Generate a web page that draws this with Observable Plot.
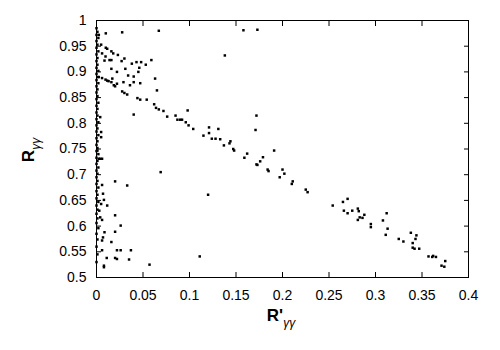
<!DOCTYPE html>
<html><head><meta charset="utf-8">
<script src="https://cdn.jsdelivr.net/npm/d3@7"></script>
<script src="https://cdn.jsdelivr.net/npm/@observablehq/plot@0.6"></script>
<style>body{margin:0;background:#fff} #chart{width:500px;height:350px}</style>
</head><body><div id="chart"></div><script>
const xTicks = [0, 0.05, 0.1, 0.15, 0.2, 0.25, 0.3, 0.35, 0.4];
const yTicks = [0.5, 0.55, 0.6, 0.65, 0.7, 0.75, 0.8, 0.85, 0.9, 0.95, 1];
const xLabel = ["R'", "γγ"];
const yLabel = ["R", "γγ"];

// main diagonal band [R'γγ, Rγγ]
const band = [
[0.0025,0.890],[0.006,0.888],[0.0097,0.885],[0.0115,0.883],[0.013,0.882],[0.017,0.887],[0.016,0.880],[0.0186,0.874],[0.020,0.872],[0.022,0.877],[0.029,0.880],[0.0276,0.862],[0.030,0.859],[0.033,0.856],[0.044,0.849],[0.047,0.846],[0.054,0.846],[0.062,0.837],[0.064,0.830],[0.067,0.827],[0.072,0.824],[0.076,0.813],[0.085,0.815],[0.087,0.807],[0.090,0.807],[0.092,0.807],[0.096,0.802],[0.099,0.796],[0.104,0.789],[0.121,0.792],[0.131,0.789],[0.115,0.776],[0.121,0.781],[0.124,0.770],[0.128,0.770],[0.133,0.769],[0.137,0.757],[0.144,0.765],[0.143,0.761],[0.147,0.750],[0.148,0.747],[0.162,0.741],[0.159,0.733],[0.179,0.734],[0.172,0.720],[0.173,0.719],[0.176,0.726],[0.184,0.710],[0.185,0.707],[0.200,0.710],[0.197,0.695],[0.202,0.702],[0.211,0.687],[0.210,0.682],[0.225,0.671],[0.227,0.666],[0.254,0.640],[0.265,0.647],[0.270,0.653],[0.266,0.630],[0.270,0.625],[0.275,0.630],[0.281,0.634],[0.282,0.629],[0.281,0.612],[0.283,0.617],[0.286,0.616],[0.288,0.622],[0.295,0.604],[0.295,0.598],[0.312,0.625],[0.308,0.611],[0.313,0.595],[0.311,0.583],[0.325,0.575],[0.330,0.570],[0.338,0.587],[0.344,0.582],[0.343,0.575],[0.340,0.567],[0.340,0.558],[0.342,0.556],[0.347,0.556],[0.357,0.541],[0.361,0.540],[0.362,0.542],[0.365,0.540],[0.371,0.523],[0.374,0.521],[0.375,0.532]
];

// points along R'γγ ≈ 0
const column = [
[0,0.985],[0.001,0.978],[0,0.972],[0.002,0.966],[0,0.96],[0.001,0.953],[0,0.947],[0.002,0.94],[0,0.934],[0.001,0.927],[0,0.921],[0.001,0.914],[0,0.908],[0.002,0.902],[0,0.896],[0.001,0.89],[0,0.884],[0.002,0.878],[0,0.872],[0.001,0.866],[0,0.86],[0.001,0.853],[0,0.847],[0.002,0.84],[0,0.834],[0.001,0.828],[0,0.821],[0.001,0.815],[0,0.808],[0.002,0.802],[0,0.796],[0.001,0.79],[0,0.784],[0.002,0.777],[0,0.771],[0.001,0.765],[0,0.758],[0.001,0.752],[0,0.746],[0.002,0.74],[0,0.733],[0.001,0.727],[0,0.721],[0.002,0.714],[0,0.708],[0.001,0.702],[0,0.695],[0.001,0.688],[0,0.682],[0.002,0.675],[0,0.668],[0.001,0.661],[0,0.654],[0.002,0.647],[0,0.64],[0.001,0.632],[0,0.624],[0.001,0.615],[0,0.606],[0.002,0.596],[0,0.585],[0.001,0.574],[0,0.56],[0.001,0.545],[0,0.53]
];

// scattered points above the band
const upper = [
[0.0025,0.972],[0.010,0.975],[0.0276,0.977],[0.067,0.980],[0.158,0.981],[0.173,0.982],[0.138,0.932],[0.005,0.953],[0.010,0.947],[0.0115,0.945],[0.006,0.936],[0.016,0.940],[0.018,0.936],[0.023,0.933],[0.0097,0.930],[0.0086,0.922],[0.014,0.923],[0.016,0.923],[0.030,0.926],[0.027,0.921],[0.038,0.916],[0.043,0.919],[0.048,0.919],[0.059,0.923],[0.053,0.914],[0.046,0.908],[0.016,0.906],[0.022,0.900],[0.031,0.906],[0.045,0.900],[0.034,0.893],[0.040,0.891],[0.063,0.887],[0.036,0.874],[0.040,0.880],[0.047,0.878],[0.065,0.864],[0.040,0.817],[0.098,0.825],[0.172,0.815],[0.171,0.787],[0.191,0.747]
];

// scattered points below the band
const lower = [
[0.004,0.812],[0.005,0.783],[0.005,0.773],[0.069,0.705],[0.020,0.687],[0.033,0.679],[0.120,0.661],[0.111,0.541],[0.057,0.525],[0.008,0.523],[0.008,0.520],[0.011,0.538],[0.020,0.538],[0.022,0.536],[0.035,0.535],[0.006,0.553],[0.022,0.553],[0.026,0.553],[0.037,0.553],[0.016,0.569],[0.006,0.572],[0.007,0.578],[0.0086,0.588],[0.020,0.589],[0.026,0.601],[0.020,0.621],[0.004,0.617],[0.006,0.612],[0.003,0.630],[0.0115,0.640],[0.005,0.643],[0.008,0.651],[0.007,0.663],[0.006,0.680],[0.0025,0.731],[0.004,0.731],[0.006,0.731],[0.001,0.747]
];

const pts = [...band, ...column, ...upper, ...lower].map(([x, y]) => ({x, y}));
const fmt = d => String(+d.toFixed(2));

const chart = Plot.plot({
  width: 500, height: 350,
  marginLeft: 96, marginRight: 32, marginTop: 20, marginBottom: 73,
  style: {fontFamily: "'Liberation Sans', Arial, sans-serif", fontSize: "14px", background: "white", color: "black"},
  x: {domain: [0, 0.4]},
  y: {domain: [0.5, 1]},
  marks: [
    Plot.axisX(xTicks, {anchor: "bottom", tickSize: 0, tickPadding: 13, tickFormat: fmt, label: null}),
    Plot.axisY(yTicks, {anchor: "left", tickSize: 0, tickPadding: 10, tickFormat: fmt, label: null}),
    Plot.axisX(xTicks, {anchor: "bottom", tickSize: 5, dy: -5, fill: "none", label: null}),
    Plot.axisX(xTicks, {anchor: "top", tickSize: 5, dy: 5, fill: "none", label: null}),
    Plot.axisY(yTicks, {anchor: "left", tickSize: 5, dx: 5, fill: "none", label: null}),
    Plot.axisY(yTicks, {anchor: "right", tickSize: 5, dx: -5, fill: "none", label: null}),
    Plot.frame({stroke: "black", strokeWidth: 1}),
    Plot.dot(pts, {x: "x", y: "y", symbol: "square", r: 1.4, fill: "black", stroke: null})
  ]
});
document.getElementById("chart").appendChild(chart);

const svg = d3.select(chart);
const xl = svg.append("text")
  .attr("x", 281).attr("y", 321)
  .attr("text-anchor", "middle")
  .attr("font-family", "'Liberation Sans', Arial, sans-serif")
  .attr("fill", "black");
xl.append("tspan").attr("font-size", 17).attr("font-weight", "bold").text(xLabel[0]);
xl.append("tspan").attr("font-size", 12).attr("font-style", "italic").attr("dy", 6).text(xLabel[1]);

const yl = svg.append("text")
  .attr("transform", "translate(34,150) rotate(-90)")
  .attr("text-anchor", "middle")
  .attr("font-family", "'Liberation Sans', Arial, sans-serif")
  .attr("fill", "black");
yl.append("tspan").attr("font-size", 17).attr("font-weight", "bold").text(yLabel[0]);
yl.append("tspan").attr("font-size", 12).attr("font-style", "italic").attr("dy", 6).text(yLabel[1]);
</script></body></html>
